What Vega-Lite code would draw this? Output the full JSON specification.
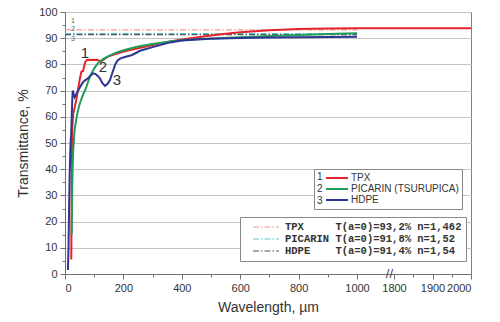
{
  "$schema": "https://vega.github.io/schema/vega-lite/v6.json",
  "width": 406,
  "height": 262,
  "autosize": {"type": "none"},
  "padding": {"left": 65, "top": 12, "right": 29, "bottom": 48},
  "background": "white",
  "config": {
    "font": "Liberation Sans",
    "view": {"stroke": "#808080", "strokeWidth": 1},
    "axis": {
      "domainColor": "#707070",
      "tickColor": "#707070",
      "gridColor": "#c4c4c4",
      "labelColor": "#333333",
      "labelFontSize": 11,
      "titleColor": "#333333",
      "titleFontSize": 14,
      "titleFontWeight": "normal"
    }
  },
  "datasets": {
    "curves": [
      {"material": "TPX", "wavelength": 21.5, "transmittance": 5.5},
      {"material": "TPX", "wavelength": 22.5, "transmittance": 25},
      {"material": "TPX", "wavelength": 23, "transmittance": 38},
      {"material": "TPX", "wavelength": 24, "transmittance": 49},
      {"material": "TPX", "wavelength": 25, "transmittance": 56},
      {"material": "TPX", "wavelength": 28, "transmittance": 61},
      {"material": "TPX", "wavelength": 33, "transmittance": 63.5},
      {"material": "TPX", "wavelength": 38, "transmittance": 66},
      {"material": "TPX", "wavelength": 44, "transmittance": 70},
      {"material": "TPX", "wavelength": 50, "transmittance": 74},
      {"material": "TPX", "wavelength": 56, "transmittance": 77.2},
      {"material": "TPX", "wavelength": 62, "transmittance": 77.5},
      {"material": "TPX", "wavelength": 66, "transmittance": 79.5},
      {"material": "TPX", "wavelength": 70, "transmittance": 81},
      {"material": "TPX", "wavelength": 75, "transmittance": 81.7},
      {"material": "TPX", "wavelength": 90, "transmittance": 81.8},
      {"material": "TPX", "wavelength": 112, "transmittance": 81.7},
      {"material": "TPX", "wavelength": 122, "transmittance": 81.1},
      {"material": "TPX", "wavelength": 132, "transmittance": 81.8},
      {"material": "TPX", "wavelength": 147, "transmittance": 83},
      {"material": "TPX", "wavelength": 175, "transmittance": 84},
      {"material": "TPX", "wavelength": 204, "transmittance": 85},
      {"material": "TPX", "wavelength": 250, "transmittance": 86.2},
      {"material": "TPX", "wavelength": 300, "transmittance": 87.4},
      {"material": "TPX", "wavelength": 360, "transmittance": 88.7},
      {"material": "TPX", "wavelength": 400, "transmittance": 89.5},
      {"material": "TPX", "wavelength": 450, "transmittance": 90.3},
      {"material": "TPX", "wavelength": 500, "transmittance": 91},
      {"material": "TPX", "wavelength": 550, "transmittance": 91.7},
      {"material": "TPX", "wavelength": 600, "transmittance": 92.3},
      {"material": "TPX", "wavelength": 700, "transmittance": 93},
      {"material": "TPX", "wavelength": 800, "transmittance": 93.5},
      {"material": "TPX", "wavelength": 900, "transmittance": 93.7},
      {"material": "TPX", "wavelength": 1000, "transmittance": 93.8},
      {"material": "TPX", "wavelength": 1800, "transmittance": 93.8},
      {"material": "TPX", "wavelength": 2000, "transmittance": 93.8},

      {"material": "PICARIN (TSURUPICA)", "wavelength": 23, "transmittance": 15},
      {"material": "PICARIN (TSURUPICA)", "wavelength": 25, "transmittance": 35},
      {"material": "PICARIN (TSURUPICA)", "wavelength": 28, "transmittance": 47},
      {"material": "PICARIN (TSURUPICA)", "wavelength": 33, "transmittance": 55},
      {"material": "PICARIN (TSURUPICA)", "wavelength": 40, "transmittance": 60},
      {"material": "PICARIN (TSURUPICA)", "wavelength": 48, "transmittance": 64},
      {"material": "PICARIN (TSURUPICA)", "wavelength": 55, "transmittance": 66.5},
      {"material": "PICARIN (TSURUPICA)", "wavelength": 62, "transmittance": 68.5},
      {"material": "PICARIN (TSURUPICA)", "wavelength": 72, "transmittance": 71},
      {"material": "PICARIN (TSURUPICA)", "wavelength": 85, "transmittance": 75.3},
      {"material": "PICARIN (TSURUPICA)", "wavelength": 100, "transmittance": 78.5},
      {"material": "PICARIN (TSURUPICA)", "wavelength": 113, "transmittance": 80.5},
      {"material": "PICARIN (TSURUPICA)", "wavelength": 130, "transmittance": 82},
      {"material": "PICARIN (TSURUPICA)", "wavelength": 147, "transmittance": 83.1},
      {"material": "PICARIN (TSURUPICA)", "wavelength": 175, "transmittance": 84.5},
      {"material": "PICARIN (TSURUPICA)", "wavelength": 204, "transmittance": 85.5},
      {"material": "PICARIN (TSURUPICA)", "wavelength": 250, "transmittance": 86.8},
      {"material": "PICARIN (TSURUPICA)", "wavelength": 300, "transmittance": 87.8},
      {"material": "PICARIN (TSURUPICA)", "wavelength": 360, "transmittance": 88.7},
      {"material": "PICARIN (TSURUPICA)", "wavelength": 400, "transmittance": 89.2},
      {"material": "PICARIN (TSURUPICA)", "wavelength": 500, "transmittance": 89.9},
      {"material": "PICARIN (TSURUPICA)", "wavelength": 600, "transmittance": 90.4},
      {"material": "PICARIN (TSURUPICA)", "wavelength": 700, "transmittance": 90.8},
      {"material": "PICARIN (TSURUPICA)", "wavelength": 800, "transmittance": 91.2},
      {"material": "PICARIN (TSURUPICA)", "wavelength": 900, "transmittance": 91.6},
      {"material": "PICARIN (TSURUPICA)", "wavelength": 1000, "transmittance": 91.9},

      {"material": "HDPE", "wavelength": 10, "transmittance": 1.5},
      {"material": "HDPE", "wavelength": 12, "transmittance": 10},
      {"material": "HDPE", "wavelength": 14, "transmittance": 25},
      {"material": "HDPE", "wavelength": 16, "transmittance": 38},
      {"material": "HDPE", "wavelength": 19, "transmittance": 50},
      {"material": "HDPE", "wavelength": 21, "transmittance": 53},
      {"material": "HDPE", "wavelength": 23, "transmittance": 60},
      {"material": "HDPE", "wavelength": 25, "transmittance": 67},
      {"material": "HDPE", "wavelength": 26.5, "transmittance": 70},
      {"material": "HDPE", "wavelength": 29, "transmittance": 69},
      {"material": "HDPE", "wavelength": 33, "transmittance": 67.5},
      {"material": "HDPE", "wavelength": 38, "transmittance": 68.5},
      {"material": "HDPE", "wavelength": 45, "transmittance": 70},
      {"material": "HDPE", "wavelength": 55, "transmittance": 72},
      {"material": "HDPE", "wavelength": 63, "transmittance": 73.4},
      {"material": "HDPE", "wavelength": 72, "transmittance": 74.2},
      {"material": "HDPE", "wavelength": 80, "transmittance": 74.8},
      {"material": "HDPE", "wavelength": 90, "transmittance": 76},
      {"material": "HDPE", "wavelength": 97, "transmittance": 76.6},
      {"material": "HDPE", "wavelength": 105, "transmittance": 76.3},
      {"material": "HDPE", "wavelength": 113, "transmittance": 75.5},
      {"material": "HDPE", "wavelength": 120, "transmittance": 74.6},
      {"material": "HDPE", "wavelength": 128, "transmittance": 72.8},
      {"material": "HDPE", "wavelength": 137, "transmittance": 71.8},
      {"material": "HDPE", "wavelength": 146, "transmittance": 72.6},
      {"material": "HDPE", "wavelength": 154, "transmittance": 74},
      {"material": "HDPE", "wavelength": 163, "transmittance": 77},
      {"material": "HDPE", "wavelength": 172, "transmittance": 80},
      {"material": "HDPE", "wavelength": 180, "transmittance": 81.5},
      {"material": "HDPE", "wavelength": 190, "transmittance": 82.3},
      {"material": "HDPE", "wavelength": 205, "transmittance": 82.8},
      {"material": "HDPE", "wavelength": 230, "transmittance": 83.6},
      {"material": "HDPE", "wavelength": 257, "transmittance": 85.2},
      {"material": "HDPE", "wavelength": 300, "transmittance": 86.6},
      {"material": "HDPE", "wavelength": 360, "transmittance": 88.4},
      {"material": "HDPE", "wavelength": 400, "transmittance": 89.1},
      {"material": "HDPE", "wavelength": 450, "transmittance": 89.5},
      {"material": "HDPE", "wavelength": 500, "transmittance": 89.8},
      {"material": "HDPE", "wavelength": 600, "transmittance": 90.1},
      {"material": "HDPE", "wavelength": 700, "transmittance": 90.3},
      {"material": "HDPE", "wavelength": 800, "transmittance": 90.4},
      {"material": "HDPE", "wavelength": 900, "transmittance": 90.5},
      {"material": "HDPE", "wavelength": 1000, "transmittance": 90.6}
    ],
    "limits": [
      {"ref": "TPX\u00a0\u00a0\u00a0\u00a0\u00a0T(a=0)=93,2% n=1,462", "t": 93.2},
      {"ref": "PICARIN T(a=0)=91,8% n=1,52", "t": 91.8},
      {"ref": "HDPE\u00a0\u00a0\u00a0\u00a0T(a=0)=91,4% n=1,54", "t": 91.4}
    ],
    "curveTags": [
      {"tag": "1", "wavelength": 68, "transmittance": 84.4},
      {"tag": "2", "wavelength": 130, "transmittance": 79},
      {"tag": "3", "wavelength": 178, "transmittance": 74}
    ],
    "limitTags": [
      {"tag": "1", "wavelength": 27, "transmittance": 96.4},
      {"tag": "2", "wavelength": 27, "transmittance": 93.4},
      {"tag": "3", "wavelength": 27, "transmittance": 89.6}
    ]
  },
  "encoding": {
    "x": {
      "type": "quantitative",
      "scale": {"domain": [0, 1000, 1800, 2000], "range": [0, 292, 329, 406], "nice": false, "zero": false},
      "axis": {
        "title": "Wavelength, µm",
        "titlePadding": 7,
        "values": [0, 100, 200, 300, 400, 500, 600, 700, 800, 900, 1000, 1800, 1850, 1900, 1950, 2000],
        "labelExpr": "((datum.value <= 1000 && datum.value % 200 === 0) || (datum.value >= 1800 && datum.value % 100 === 0)) ? datum.label : ''",
        "format": "d",
        "labelPadding": 3,
        "tickSize": {"condition": {"test": "(datum.value <= 1000 && datum.value % 200 === 0) || (datum.value >= 1800 && datum.value % 100 === 0)", "value": 5}, "value": 3},
        "gridOpacity": {"condition": {"test": "datum.value % 200 === 0 && datum.value <= 1000 || datum.value === 1900", "value": 1}, "value": 0}
      }
    },
    "y": {
      "type": "quantitative",
      "scale": {"domain": [0, 100], "nice": false},
      "axis": {
        "title": "Transmittance, %",
        "titlePadding": 8,
        "values": [0, 5, 10, 15, 20, 25, 30, 35, 40, 45, 50, 55, 60, 65, 70, 75, 80, 85, 90, 95, 100],
        "labelExpr": "datum.value % 10 === 0 ? datum.label : ''",
        "labelPadding": 3,
        "tickSize": {"condition": {"test": "datum.value % 10 === 0", "value": 5}, "value": 3},
        "gridOpacity": {"condition": {"test": "datum.value % 10 === 0", "value": 1}, "value": 0}
      }
    }
  },
  "layer": [
    {
      "data": {"name": "limits"},
      "mark": {"type": "rule", "strokeWidth": 1.2, "strokeDash": [6, 2, 1.5, 2]},
      "encoding": {
        "x": {"datum": 0},
        "x2": {"datum": 1000},
        "y": {"field": "t", "type": "quantitative"},
        "color": {
          "field": "ref",
          "type": "nominal",
          "scale": {
            "domain": ["TPX\u00a0\u00a0\u00a0\u00a0\u00a0T(a=0)=93,2% n=1,462", "PICARIN T(a=0)=91,8% n=1,52", "HDPE\u00a0\u00a0\u00a0\u00a0T(a=0)=91,4% n=1,54"],
            "range": ["#ef9a9a", "#5cc5cc", "#4a5868"]
          },
          "legend": {
            "orient": "none",
            "legendX": 175,
            "legendY": 205,
            "title": "\u00a0\u00a0\u00a0",
            "titleOrient": "left",
            "titleFontSize": 10,
            "titlePadding": 8,
            "symbolType": "M-1,0H4.2",
            "symbolSize": 100,
            "symbolStrokeWidth": 1.2,
            "symbolDash": [6, 2, 1.5, 2],
            "labelFont": "Liberation Mono",
            "labelFontWeight": "bold",
            "labelFontSize": 10.5,
            "labelColor": "#333333",
            "labelOffset": 21,
            "rowPadding": 0,
            "padding": 4,
            "strokeColor": "#888888",
            "fillColor": "white",
            "labelLimit": 400
          }
        }
      }
    },
    {
      "data": {"name": "curves"},
      "mark": {"type": "line", "strokeWidth": 2},
      "encoding": {
        "x": {"field": "wavelength", "type": "quantitative"},
        "y": {"field": "transmittance", "type": "quantitative"},
        "color": {
          "field": "material",
          "type": "nominal",
          "scale": {"domain": ["TPX", "PICARIN (TSURUPICA)", "HDPE"], "range": ["#e4232b", "#1f9e5a", "#2c3592"]},
          "legend": {
            "orient": "none",
            "legendX": 249,
            "legendY": 157,
            "title": ["\u00a0\u00a01", "\u00a0\u00a02", "\u00a0\u00a03"],
            "titleOrient": "left",
            "titleFontSize": 10,
            "titleFontWeight": "normal",
            "titleColor": "#333333",
            "titleLineHeight": 12,
            "titlePadding": 2,
            "symbolType": "M-1,0H3.4",
            "symbolSize": 100,
            "symbolStrokeWidth": 2,
            "labelFontSize": 10,
            "labelColor": "#333333",
            "labelOffset": 14,
            "rowPadding": 0,
            "padding": 3,
            "strokeColor": "#888888",
            "fillColor": "white",
            "labelLimit": 300
          }
        }
      }
    },
    {
      "data": {"name": "curveTags"},
      "mark": {"type": "text", "fontSize": 15, "color": "#333333"},
      "encoding": {
        "x": {"field": "wavelength", "type": "quantitative"},
        "y": {"field": "transmittance", "type": "quantitative"},
        "text": {"field": "tag"}
      }
    },
    {
      "data": {"name": "limitTags"},
      "mark": {"type": "text", "fontSize": 7, "color": "#666666"},
      "encoding": {
        "x": {"field": "wavelength", "type": "quantitative"},
        "y": {"field": "transmittance", "type": "quantitative"},
        "text": {"field": "tag"}
      }
    },
    {
      "data": {"values": [{"mark": "//"}]},
      "mark": {"type": "text", "fontSize": 13, "color": "#444444", "baseline": "middle"},
      "encoding": {
        "x": {"datum": 1700},
        "y": {"datum": 0},
        "text": {"field": "mark"}
      }
    }
  ],
  "resolve": {"scale": {"color": "independent"}, "legend": {"color": "independent"}}
}
